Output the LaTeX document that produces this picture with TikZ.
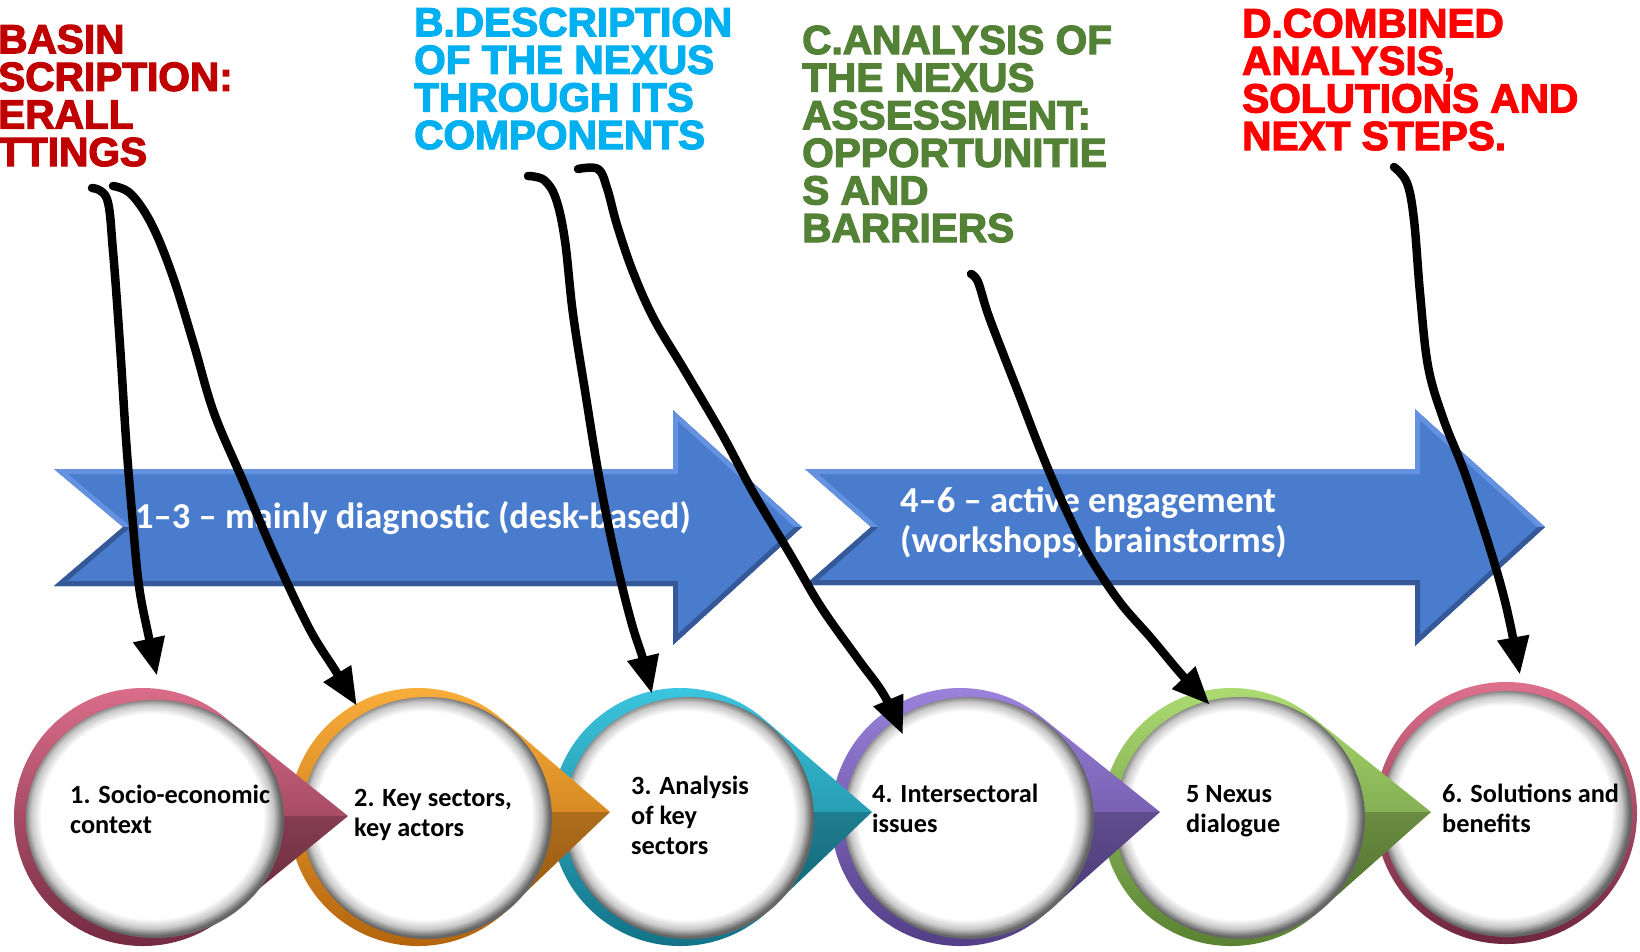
\documentclass[tikz,border=0pt]{standalone}
\usepackage{fontspec}
\setmainfont{Carlito}
\newfontfamily\headfont[BoldFeatures={FakeBold=3}]{Liberation Sans}
\usetikzlibrary{arrows.meta}

\definecolor{hdred}{RGB}{192,0,0}
\definecolor{hdcyan}{RGB}{0,176,240}
\definecolor{hdgreen}{RGB}{83,129,53}
\definecolor{hdbright}{RGB}{255,0,0}
\definecolor{bluebody}{RGB}{74,124,206}
\definecolor{bluelite}{RGB}{100,146,224}
\definecolor{bluedark}{RGB}{52,88,152}
\definecolor{roseL}{RGB}{222,112,140}\definecolor{roseD}{RGB}{110,38,62}
\definecolor{orngL}{RGB}{252,176,60}\definecolor{orngD}{RGB}{176,96,10}
\definecolor{tealL}{RGB}{60,200,225}\definecolor{tealD}{RGB}{16,110,130}
\definecolor{purpL}{RGB}{158,132,222}\definecolor{purpD}{RGB}{78,58,130}
\definecolor{grnL}{RGB}{176,222,116}\definecolor{grnD}{RGB}{84,124,46}

\pgfdeclareradialshading{rim}{\pgfpoint{-1bp}{1bp}}{color(0bp)=(white); color(21.5bp)=(white); color(23.5bp)=(black!22); color(25bp)=(black!60); color(50bp)=(black!60)}

\begin{document}
\begin{tikzpicture}[x=1pt,y=-1pt,
  headbox/.style={anchor=base west,align=left,inner sep=0pt,font=\headfont\bfseries\fontsize{40.6}{37.6}\selectfont},
  circtext/.style={anchor=base west,align=left,inner sep=0pt,font=\bfseries\fontsize{26.3}{30}\selectfont},
  arrtext/.style={anchor=base west,align=left,inner sep=0pt,text=white,font=\bfseries\fontsize{36.5}{40}\selectfont},
  scribble/.style={line width=8.5pt,line cap=round,line join=round,
    -{Triangle[open,length=38pt,width=30pt,line width=9pt]}},
  arrA/.style={insert path={(54,469) -- (673,469) -- (673,410) -- (802,527) -- (673,645) -- (673,586) -- (54,586) -- (123,527) -- cycle}},
  arrB/.style={insert path={(805,469) -- (1415,469) -- (1415,409) -- (1545,527) -- (1415,646) -- (1415,585) -- (805,585) -- (871,527) -- cycle}}]
\useasboundingbox (0,0) rectangle (1640,951);
\fill[color=white] (0,0) rectangle (1640,951);

% big blue arrows
\begin{scope}
  \clip[arrA];
  \fill[bluebody,arrA];
  \draw[bluelite,line width=10pt,arrA];
  \clip (0,527) rectangle (820,700);
  \draw[bluedark,line width=10pt,arrA];
\end{scope}
\begin{scope}
  \clip[arrB];
  \fill[bluebody,arrB];
  \draw[bluelite,line width=10pt,arrB];
  \clip (790,527) rectangle (1640,700);
  \draw[bluedark,line width=10pt,arrB];
\end{scope}
\node[arrtext] (t1) at (135,528) {1–3 – mainly diagnostic (desk-based)};
\node[arrtext] (t2) at (900,552) {4–6 – active engagement\\(workshops, brainstorms)};

% circles, right to left
\begin{scope}[shift={(1506,813)}] %6
  \shade[top color=roseL,bottom color=roseD] (0,0) circle[radius=131];
  \shade[shading=rim] (1,1) ellipse[x radius=125,y radius=123];
\end{scope}
\begin{scope}[shift={(1231,817)}] %5
  \shade[top color=grnL,bottom color=grnD] (200,-5) -- (50:129) arc[start angle=50,end angle=310,radius=129] -- cycle;
  \fill[black,opacity=0.2] (200,-5) -- (50:129) -- (110,-5) -- cycle;
  \shade[shading=rim] (9,1) ellipse[x radius=125,y radius=121];
\end{scope}
\begin{scope}[shift={(960,817)}] %4
  \shade[top color=purpL,bottom color=purpD] (200,-5) -- (50:129) arc[start angle=50,end angle=310,radius=129] -- cycle;
  \fill[black,opacity=0.2] (200,-5) -- (50:129) -- (110,-5) -- cycle;
  \shade[shading=rim] (9,1) ellipse[x radius=125,y radius=121];
\end{scope}
\begin{scope}[shift={(680,817)}] %3
  \shade[top color=tealL,bottom color=tealD] (192,-5) -- (50:129) arc[start angle=50,end angle=310,radius=129] -- cycle;
  \fill[black,opacity=0.2] (192,-5) -- (50:129) -- (110,-5) -- cycle;
  \shade[shading=rim] (9,1) ellipse[x radius=125,y radius=121];
\end{scope}
\begin{scope}[shift={(418,817)}] %2
  \shade[top color=orngL,bottom color=orngD] (192,-5) -- (50:129) arc[start angle=50,end angle=310,radius=129] -- cycle;
  \fill[black,opacity=0.2] (192,-5) -- (50:129) -- (110,-5) -- cycle;
  \shade[shading=rim] (9,1) ellipse[x radius=125,y radius=121];
\end{scope}
\begin{scope}[shift={(143,817)}] %1
  \shade[top color=roseL,bottom color=roseD] (205,-1) -- (50:129) arc[start angle=50,end angle=310,radius=129] -- cycle;
  \fill[black,opacity=0.2] (205,-1) -- (50:129) -- (110,-1) -- cycle;
  \shade[shading=rim] (12,2) ellipse[x radius=129,y radius=119];
\end{scope}

\node[circtext] (c1) at (70,833) {1. Socio-economic\\context};
\node[circtext] (c2) at (354,836) {2. Key sectors,\\key actors};
\node[circtext] (c3) at (631,854) {3. Analysis\\of key\\sectors};
\node[circtext] (c4) at (872,832) {4. Intersectoral\\issues};
\node[circtext] (c5) at (1186,832) {5 Nexus\\dialogue};
\node[circtext] (c6) at (1442,832) {6. Solutions and\\benefits};

% headings
\node[headbox,text=hdred] (hA) at (-2,166) {BASIN\\SCRIPTION:\\ERALL\\TTINGS};
\node[headbox,text=hdcyan] (hB) at (414,149) {B.DESCRIPTION\\OF THE NEXUS\\THROUGH ITS\\COMPONENTS};
\node[headbox,text=hdgreen] (hC) at (802,242) {C.ANALYSIS OF\\THE NEXUS\\ASSESSMENT:\\OPPORTUNITIE\\S AND\\BARRIERS};
\node[headbox,text=hdbright] (hD) at (1242,150) {D.COMBINED\\ANALYSIS,\\SOLUTIONS AND\\NEXT STEPS.};

% hand drawn pointers
\coordinate (s1) at (92,188);   \coordinate (e1) at (157,676);
\coordinate (s2) at (113,186);  \coordinate (e2) at (357,706);
\coordinate (s3) at (528,176);  \coordinate (e3) at (652,694);
\coordinate (s4) at (578,169);  \coordinate (e4) at (903,735);
\coordinate (s5) at (971,274);  \coordinate (e5) at (1210,705);
\coordinate (s6) at (1394,167); \coordinate (e6) at (1520,675);
\draw[scribble] plot[smooth,tension=0.6] coordinates {(s1) (107,199) (113,251) (120,345) (126,439) (132,513) (139,586) (149,638) (e1)};
\draw[scribble] plot[smooth,tension=0.6] coordinates {(s2) (131,194) (152,225) (173,277) (194,345) (214,413) (243,481) (274,554) (309,628) (335,670) (e2)};
\draw[scribble] plot[smooth,tension=0.6] coordinates {(s3) (544,180) (556,199) (565,241) (573,314) (586,397) (598,471) (610,533) (622,586) (633,628) (643,659) (e3)};
\draw[scribble] plot[smooth,tension=0.6] coordinates {(s4) (598,169) (607,188) (617,225) (633,272) (654,319) (685,371) (722,434) (753,492) (790,554) (821,607) (858,659) (884,695) (e4)};
\draw[scribble] plot[smooth,tension=0.6] coordinates {(s5) (978,282) (988,314) (1004,356) (1020,397) (1036,439) (1051,476) (1067,512) (1088,554) (1119,601) (1151,638) (1182,675) (e5)};
\draw[scribble] plot[smooth,tension=0.6] coordinates {(s6) (1407,183) (1414,220) (1420,293) (1428,366) (1443,418) (1464,471) (1485,533) (1501,586) (1511,628) (e6)};
\end{tikzpicture}
\end{document}
